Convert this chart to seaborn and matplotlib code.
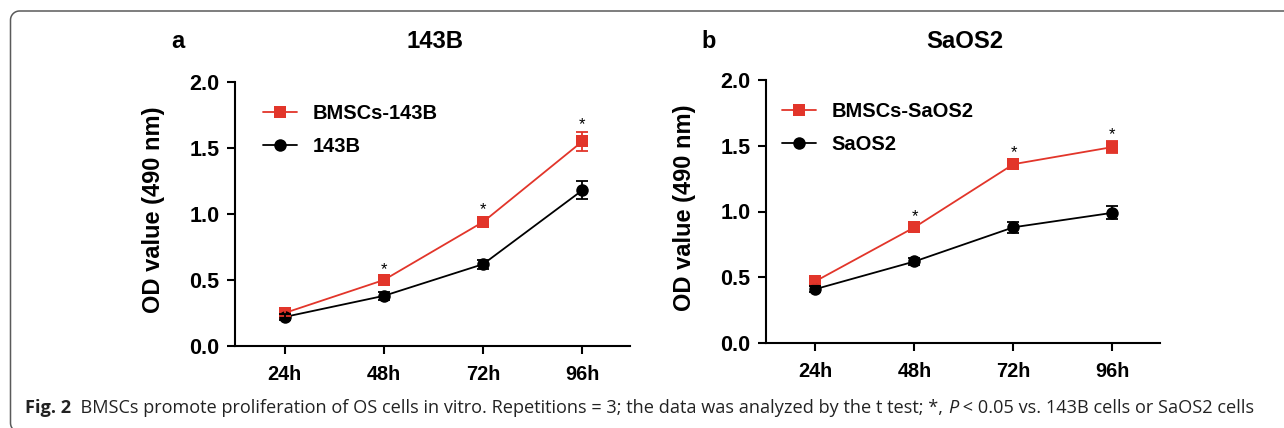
import numpy as np
import pandas as pd
import matplotlib.pyplot as plt
import seaborn as sns
from matplotlib.lines import Line2D
from matplotlib.transforms import IdentityTransform

# valores (média ± erro)
times = ["24h", "48h", "72h", "96h"]
bmsc_143b = [0.25, 0.50, 0.94, 1.55]
bmsc_143b_err = [0.02, 0.03, 0.04, 0.075]
c143b = [0.22, 0.38, 0.62, 1.18]
c143b_err = [0.02, 0.03, 0.035, 0.07]
bmsc_saos2 = [0.47, 0.88, 1.36, 1.49]
bmsc_saos2_err = [0.02, 0.03, 0.035, 0.045]
saos2 = [0.41, 0.62, 0.88, 0.99]
saos2_err = [0.02, 0.03, 0.04, 0.05]
stars = [False, True, True, True]

panels = [
    ("a", "143B", ["BMSCs-143B", "143B"], [bmsc_143b, c143b], [bmsc_143b_err, c143b_err]),
    ("b", "SaOS2", ["BMSCs-SaOS2", "SaOS2"], [bmsc_saos2, saos2], [bmsc_saos2_err, saos2_err]),
]

RED = "#E2352A"
BLACK = "#000000"
colors = [RED, BLACK]
markers = ["s", "o"]

sns.set_style("ticks")
plt.rcParams["font.family"] = ["Liberation Sans", "DejaVu Sans"]
plt.rcParams["font.weight"] = "bold"
for k in ["text.color", "axes.labelcolor", "xtick.color", "ytick.color", "axes.edgecolor"]:
    plt.rcParams[k] = "black"

W, H = 1284, 428
fig = plt.figure(figsize=(W / 100, H / 100), dpi=100)

# posição dos eixos em pixels (esq, topo, dir, base) e da legenda
boxes = [(235, 82, 630, 346), (766, 80, 1160, 343)]
leg_x = [0.071, 0.041]

for (letter, title, labels, series, errs), (x0, y0, x1, y1), lx in zip(panels, boxes, leg_x):
    ax = fig.add_axes([x0 / W, 1 - y1 / H, (x1 - x0) / W, (y1 - y0) / H])
    df = pd.DataFrame({
        "pos": list(range(len(times))) * 2,
        "od": series[0] + series[1],
        "group": [labels[0]] * len(times) + [labels[1]] * len(times),
    })
    sns.lineplot(data=df, x="pos", y="od", hue="group", style="group",
                 hue_order=labels, style_order=labels,
                 palette=dict(zip(labels, colors)), markers=dict(zip(labels, markers)),
                 dashes=False, markersize=9, markeredgewidth=0, linewidth=1.3,
                 legend=False, ax=ax, zorder=3)
    for vals, err, c in zip(series, errs, colors):
        ax.errorbar(range(len(times)), vals, yerr=err, fmt="none", ecolor=c,
                    elinewidth=1.3, capsize=4, capthick=1.3, zorder=4)
    # asteriscos
    for i, s in enumerate(stars):
        if s:
            top = series[0][i] + errs[0][i]
            ax.annotate("*", (i, top), xytext=(0, 1.5), textcoords="offset points",
                        ha="center", va="baseline", fontsize=12, fontweight="normal")

    ax.set_xlim(-0.5, 3.48)
    ax.set_ylim(0, 2.0)
    ax.set_xticks(range(len(times)))
    ax.set_xticklabels(times)
    ax.set_yticks([0, 0.5, 1.0, 1.5, 2.0])
    ax.set_yticklabels(["0.0", "0.5", "1.0", "1.5", "2.0"])
    ax.tick_params(axis="y", length=6, width=1.5, labelsize=15.5, pad=5)
    ax.tick_params(axis="x", length=6, width=1.5, labelsize=14.3, pad=8)
    for sp in ["top", "right"]:
        ax.spines[sp].set_visible(False)
    for sp in ["left", "bottom"]:
        ax.spines[sp].set_linewidth(1.5)
    ax.set_xlabel("")
    ax.set_ylabel("OD value (490 nm)", fontsize=17, fontweight="bold")
    ax.yaxis.set_label_coords(-70 / (x1 - x0), 0.515)

    handles = [Line2D([], [], color=c, marker=m, markersize=9, markeredgewidth=0, linewidth=1.3)
               for c, m in zip(colors, markers)]
    ax.legend(handles, labels, loc="upper left", bbox_to_anchor=(lx, 0.915),
              frameon=False, fontsize=14.5, handlelength=1.7, handletextpad=0.75,
              labelspacing=0.68, borderpad=0, borderaxespad=0)

    fig.text(x0 - 57, H - 42, letter, transform=IdentityTransform(), fontsize=17,
             fontweight="bold", ha="center", va="center")
    fig.text((x0 + x1) / 2 + 2, H - 42, title, transform=IdentityTransform(), fontsize=17.2,
             fontweight="bold", ha="center", va="center")

# moldura: linha de cima e da esquerda com cantos arredondados
r, xl, yt, yb = 9, 10.5, H - 11, -4
a1 = np.linspace(np.pi / 2, np.pi, 12)
a2 = np.linspace(np.pi, 1.5 * np.pi, 12)
fx = np.concatenate([[W + 10], xl + r + r * np.cos(a1), xl + r + r * np.cos(a2)])
fy = np.concatenate([[yt], yt - r + r * np.sin(a1), yb + r + r * np.sin(a2)])
fig.lines.append(Line2D(fx, fy, transform=IdentityTransform(), color="#5a5a5a", linewidth=1.1))

# legenda da figura
cap_parts = [
    ("Fig. 2", "bold", "normal"),
    ("  BMSCs promote proliferation of OS cells in vitro. Repetitions = 3; the data was analyzed by the t test; *, ", "normal", "normal"),
    ("P", "normal", "italic"),
    (" < 0.05 vs. 143B cells or SaOS2 cells", "normal", "normal"),
]
cap_font = ["Liberation Sans Narrow", "Open Sans", "DejaVu Sans"]


def draw_caption(size):
    rend = fig.canvas.get_renderer()
    x = 25
    objs = []
    for s, w, st in cap_parts:
        t = fig.text(x, H - 408, s, transform=IdentityTransform(), fontsize=size,
                     fontweight=w, fontstyle=st, family=cap_font, ha="left", va="center",
                     color="#222222")
        objs.append(t)
        x = t.get_window_extent(rend).x1
    return objs, x


objs, end = draw_caption(10)
for t in objs:
    t.remove()
draw_caption(10 * (1253 - 25) / (end - 25))

fig.savefig("out.png", dpi=100)
